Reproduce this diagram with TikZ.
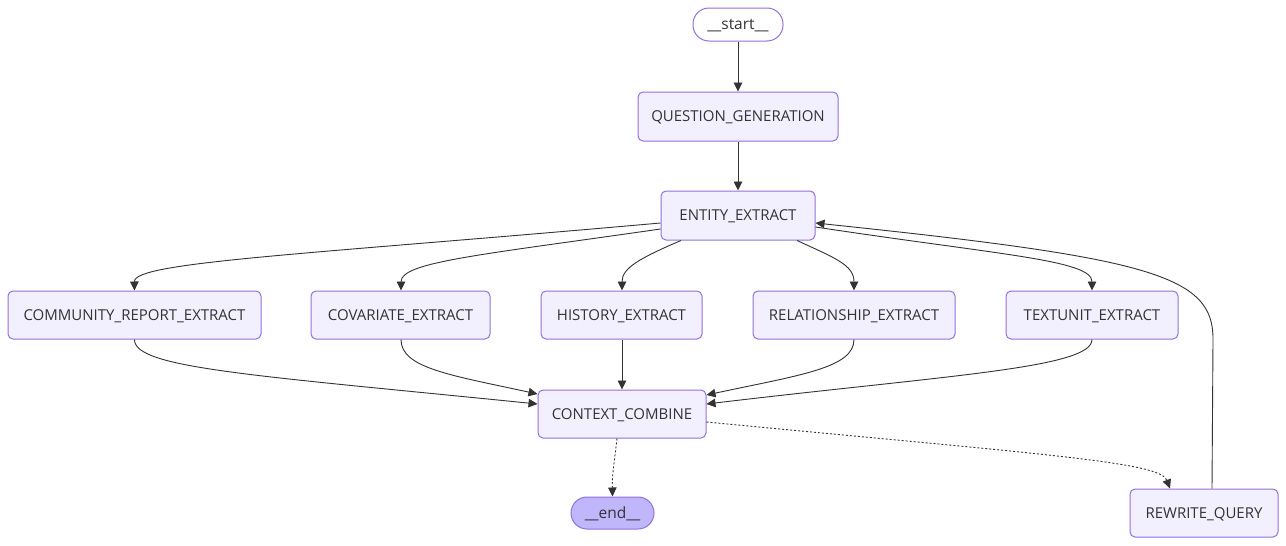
\documentclass[tikz,border=0pt]{standalone}
\usepackage{fontspec}
\setmainfont{Open Sans}
\usetikzlibrary{arrows.meta,calc}
\definecolor{nodefill}{HTML}{F2F0FF}
\definecolor{nodeborder}{HTML}{9370DB}
\definecolor{endfill}{HTML}{BFB6FC}
\definecolor{txt}{HTML}{333333}
\begin{document}
\begin{tikzpicture}[x=1pt,y=-1pt,
  box/.style={draw=nodeborder, fill=nodefill, rounded corners=5pt, line width=1pt,
    text=txt, font=\fontsize{15}{18}\selectfont, inner sep=0pt, minimum height=48pt,
    text height=10.8pt, text depth=0pt},
  term/.style={draw=nodeborder, line width=1pt, text=txt,
    font=\fontsize{15.5}{18}\selectfont, inner sep=0pt, minimum height=33pt, rounded corners=16pt,
    text height=10.8pt, text depth=0pt},
  conn/.style={draw=txt, line width=0.9pt, -{Triangle[length=9pt,width=8.5pt]}},
  dotconn/.style={conn, dash pattern=on 2pt off 2pt}]
\useasboundingbox[fill=white] (0,0) rectangle (1286,546);

\node[term, fill=white, minimum width=90pt] (start) at (738,24.5) {\_\_start\_\_};
\node[box, minimum width=200pt, minimum height=49pt] (qg) at (738,116.5) {QUESTION\_GENERATION};
\node[box, minimum width=154pt, minimum height=49pt] (ee) at (738,215.5) {ENTITY\_EXTRACT};
\node[box, minimum width=253pt] (cre) at (134.5,315) {COMMUNITY\_REPORT\_EXTRACT};
\node[box, minimum width=179pt] (cov) at (400.5,315) {COVARIATE\_EXTRACT};
\node[box, minimum width=161pt] (his) at (621.5,315) {HISTORY\_EXTRACT};
\node[box, minimum width=202pt] (rel) at (854,315) {RELATIONSHIP\_EXTRACT};
\node[box, minimum width=172pt] (tu) at (1092,315) {TEXTUNIT\_EXTRACT};
\node[box, minimum width=168pt] (cc) at (622,414) {CONTEXT\_COMBINE};
\node[term, fill=endfill, minimum width=83pt, minimum height=32pt] (end) at (612.5,513) {\_\_end\_\_};
\node[box, minimum width=148pt] (rw) at (1204,513) {REWRITE\_QUERY};

\draw[conn] (start) -- (qg);
\draw[conn] (qg) -- (ee);

\draw[conn] ($(ee.west)+(0,7.5)$) .. controls (300,255) and (134,262) .. (cre.north);
\draw[conn] ($(ee.west)+(0,13.5)$) .. controls (480,255) and (401,262) .. ($(cov.north)+(0.5,0)$);
\draw[conn] ($(ee.south)+(-57,0)$) .. controls (640,258) and (622,268) .. ($(his.north)+(0.5,0)$);
\draw[conn] ($(ee.south)+(59,0)$) .. controls (835,258) and (854,265) .. (rel.north);
\draw[conn] ($(ee.east)+(0,11.5)$) .. controls (1000,255) and (1092,260) .. (tu.north);
\draw[conn] ($(rw.north)+(8,0)$) -- (1213,340) .. controls (1214,275) and (1150,258) .. ($(ee.east)+(0,7.5)$);

\draw[conn] (cre.south) .. controls (134,368) and (250,375) .. ($(cc.west)+(0,-10)$);
\draw[conn] ($(cov.south)+(0.5,0)$) .. controls (401,368) and (450,375) .. ($(cc.west)+(0,-20)$);
\draw[conn] ($(his.south)+(0.5,0)$) -- (cc.north);
\draw[conn] (rel.south) .. controls (854,368) and (800,375) .. ($(cc.east)+(0,-19)$);
\draw[conn] (tu.south) .. controls (1092,368) and (950,375) .. ($(cc.east)+(0,-10)$);

\draw[dotconn] ($(cc.south)+(-5,0)$) .. controls (614,465) and (612,475) .. (end.north);
\draw[dotconn] ($(cc.east)+(0,8)$) .. controls (1050,455) and (1160,462) .. ($(rw.north)+(-34,0)$);
\end{tikzpicture}
\end{document}
